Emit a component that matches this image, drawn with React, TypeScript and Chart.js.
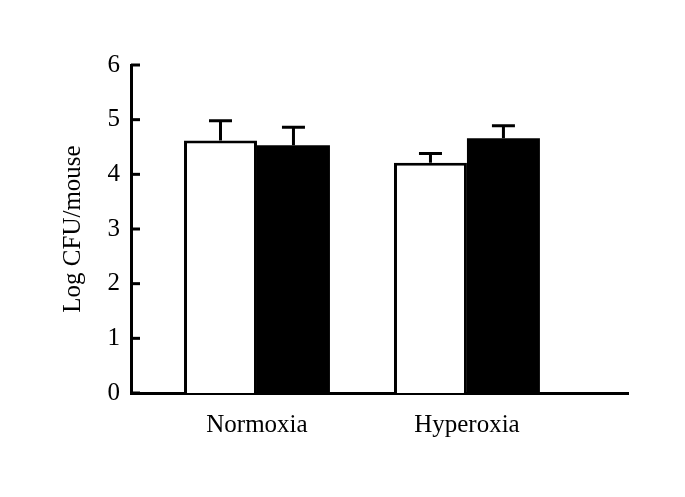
import React, { useEffect, useRef } from "react";
import { Chart, registerables } from "chart.js";

Chart.register(...registerables);

const categories = ["Normoxia", "Hyperoxia"];
const whiteValues = [4.62, 4.21];
const whiteErrors = [0.36, 0.17];
const blackValues = [4.53, 4.66];
const blackErrors = [0.33, 0.23];
const yTicks = [0, 1, 2, 3, 4, 5, 6];
const yTitle = "Log CFU/mouse";

const FONT = "'Liberation Serif', 'Times New Roman', Times, serif";

const errorBarPlugin = {
  id: "errorBars",
  afterDatasetsDraw(chart: any) {
    const ctx = chart.ctx;
    const yScale = chart.scales.y;
    ctx.save();
    ctx.strokeStyle = "#000";
    ctx.lineWidth = 3;
    chart.data.datasets.forEach((ds: any, di: number) => {
      const meta = chart.getDatasetMeta(di);
      meta.data.forEach((el: any, i: number) => {
        const v = ds.data[i].y;
        const e = ds.errors[i];
        const yTop = yScale.getPixelForValue(v + e);
        const yBase = el.y;
        ctx.beginPath();
        ctx.moveTo(el.x, yBase);
        ctx.lineTo(el.x, yTop);
        ctx.moveTo(el.x - 11.5, yTop);
        ctx.lineTo(el.x + 11.5, yTop);
        ctx.stroke();
      });
    });
    ctx.restore();
  },
};

const innerTicksPlugin = {
  id: "innerTicks",
  afterDraw(chart: any) {
    const ctx = chart.ctx;
    const yScale = chart.scales.y;
    const left = chart.chartArea.left;
    ctx.save();
    ctx.strokeStyle = "#000";
    ctx.lineWidth = 3;
    yTicks.forEach((t) => {
      const py = yScale.getPixelForValue(t);
      ctx.beginPath();
      ctx.moveTo(left, py);
      ctx.lineTo(left + 9, py);
      ctx.stroke();
    });
    ctx.restore();
  },
};

export default function App() {
  const ref = useRef<HTMLCanvasElement>(null);
  useEffect(() => {
    document.body.style.margin = "0";
    const canvas = ref.current!;
    const chart = new Chart(canvas, {
      type: "bar",
      data: {
        datasets: [
          {
            label: "white",
            data: categories.map((_, i) => ({ x: i, y: whiteValues[i] })),
            errors: whiteErrors,
            backgroundColor: "#ffffff",
            borderColor: "#000000",
            borderWidth: 3,
            categoryPercentage: 0.695,
            barPercentage: 1,
          } as any,
          {
            label: "black",
            data: categories.map((_, i) => ({ x: i, y: blackValues[i] })),
            errors: blackErrors,
            backgroundColor: "#000000",
            borderColor: "#000000",
            borderWidth: 0,
            categoryPercentage: 0.695,
            barPercentage: 1,
          } as any,
        ],
      },
      options: {
        animation: false,
        responsive: false,
        maintainAspectRatio: false,
        layout: { padding: { left: 54, right: 57, top: 65, bottom: 0 } },
        plugins: {
          legend: { display: false },
          tooltip: { enabled: false },
        },
        scales: {
          x: {
            type: "linear",
            offset: false,
            min: -0.6,
            max: 1.767,
            grid: { display: false, drawTicks: false, offset: false },
            border: { display: true, color: "#000", width: 3 },
            afterBuildTicks: (scale: any) => {
              scale.ticks = categories.map((_, i) => ({ value: i }));
            },
            afterFit: (scale: any) => {
              scale.height = 104;
            },
            ticks: {
              padding: 17,
              color: "#000",
              font: { family: FONT, size: 25 },
              callback: (v: any) => categories[Math.round(Number(v))] ?? "",
            },
          },
          y: {
            min: 0,
            max: 6,
            grid: { display: false, drawTicks: false },
            border: { display: true, color: "#000", width: 3 },
            afterFit: (scale: any) => {
              scale.width = 77;
            },
            afterBuildTicks: (scale: any) => {
              scale.ticks = yTicks.map((v) => ({ value: v }));
            },
            ticks: {
              padding: 11,
              color: "#000",
              font: { family: FONT, size: 25 },
            },
            title: {
              display: true,
              text: yTitle,
              color: "#000",
              font: { family: FONT, size: 25 },
              padding: { top: 4, bottom: 0 },
            },
          },
        },
      } as any,
      plugins: [errorBarPlugin, innerTicksPlugin],
    });
    if ((document as any).fonts) {
      (document as any).fonts
        .load("25px 'Liberation Serif'")
        .then(() => chart.update())
        .catch(() => {});
    }
    return () => chart.destroy();
  }, []);
  return (
    <div style={{ position: "absolute", left: 0, top: 0, width: 685, height: 497 }}>
      <canvas ref={ref} width={685} height={497} style={{ width: 685, height: 497 }} />
    </div>
  );
}
